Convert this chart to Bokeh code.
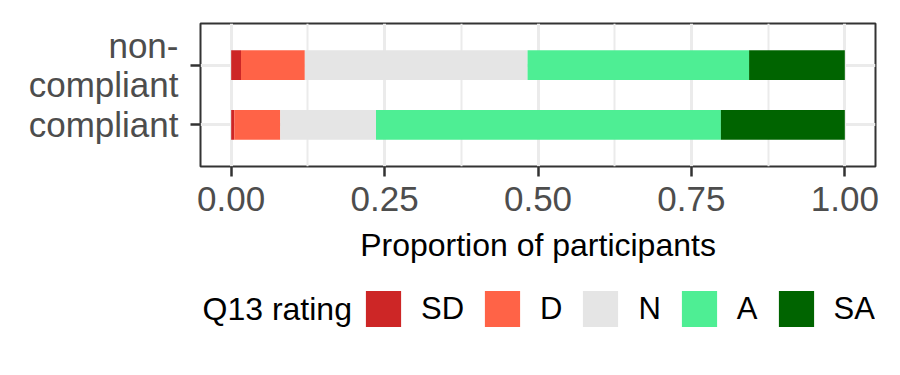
from bokeh.plotting import figure
from bokeh.layouts import column
from bokeh.models import (ColumnDataSource, FactorRange, Range1d, FixedTicker,
                          Legend, LegendItem, Label)
from bokeh.embed import file_html
from bokeh.resources import INLINE

# ---- data ----
categories = ["compliant", "non-compliant"]
tick_labels = ["compliant", "non-\ncompliant"]
levels = ["SD", "D", "N", "A", "SA"]
SD = [0.005, 0.016]
D = [0.075, 0.104]
N = [0.156, 0.363]
A = [0.562, 0.361]
SA = [0.202, 0.156]
colors = ["#CD2626", "#FF6347", "#E5E5E5", "#4EEE94", "#006400"]
x_ticks = [0.0, 0.25, 0.5, 0.75, 1.0]
x_tick_labels = ["0.00", "0.25", "0.50", "0.75", "1.00"]
legend_title = "Q13 rating"

FONT = "Liberation Sans"
W = 884
H1 = 285
H2 = 74

source = ColumnDataSource(data=dict(cat=tick_labels, SD=SD, D=D, N=N, A=A, SA=SA))

p = figure(width=W, height=H1, output_backend="svg", toolbar_location=None,
           y_range=FactorRange(factors=tick_labels, range_padding=0.2),
           x_range=Range1d(-0.05, 1.05),
           min_border_left=200, min_border_right=W - 875, min_border_top=23,
           min_border_bottom=H1 - 166)

p.hbar_stack(levels, y="cat", height=0.5, color=colors, line_color=None, source=source)

p.outline_line_color = "#333333"
p.outline_line_width = 2
p.background_fill_color = "white"

# axes
p.xaxis.ticker = FixedTicker(ticks=x_ticks, minor_ticks=[0.125, 0.375, 0.625, 0.875])
p.xaxis.major_label_overrides = {t: l for t, l in zip(x_ticks, x_tick_labels)}
p.xaxis.axis_label = "Proportion of participants"
for ax in (p.xaxis[0], p.yaxis[0]):
    ax.axis_line_color = None
    ax.major_tick_line_color = "#333333"
    ax.major_tick_line_width = 2.5
    ax.major_tick_out = 10
    ax.major_tick_in = 0
    ax.minor_tick_line_color = None
    ax.major_label_text_font = FONT
    ax.major_label_text_font_size = "35px"
    ax.major_label_text_color = "#4D4D4D"
    ax.axis_label_text_font = FONT
    ax.axis_label_text_font_size = "32px"
    ax.axis_label_text_font_style = "normal"
    ax.axis_label_text_color = "black"
p.xaxis.major_label_standoff = 10
p.xaxis.axis_label_standoff = 13
p.yaxis.major_label_standoff = 12
p.yaxis.major_label_text_line_height = 1.0

# grid
p.xgrid.grid_line_color = "#EBEBEB"
p.xgrid.grid_line_width = 3
p.xgrid.minor_grid_line_color = "#EBEBEB"
p.xgrid.minor_grid_line_width = 2
p.ygrid.grid_line_color = "#EBEBEB"
p.ygrid.grid_line_width = 3

# ---- legend strip (frame is aligned with the main plot's frame) ----
p2 = figure(width=W, height=H2, output_backend="svg", toolbar_location=None,
            y_range=FactorRange(factors=tick_labels), x_range=Range1d(5, 6),
            min_border=0)
p2.axis.visible = False
p2.grid.visible = False
p2.outline_line_color = None
# legend keys only: zero-height bars outside the visible range
key_renderers = p2.hbar_stack(levels, y="cat", height=0, color=colors,
                              line_color=None, source=source)

legend = Legend(
    items=[LegendItem(label=l, renderers=[r]) for l, r in zip(levels, key_renderers)],
    orientation="horizontal", location=(161, 28),
    label_text_font=FONT, label_text_font_size="31px", label_text_color="black",
    label_standoff=16, spacing=16, glyph_width=44, glyph_height=45,
    padding=0, margin=0, border_line_color=None, background_fill_alpha=0,
)
p2.add_layout(legend)

title = Label(x=2, y=51, x_units="screen", y_units="screen", text=legend_title,
              text_font=FONT, text_font_size="32px", text_color="black",
              text_baseline="middle", text_align="left")
p2.add_layout(title)

layout = column(p, p2, spacing=0)
open("out.html", "w").write(file_html(layout, INLINE))
